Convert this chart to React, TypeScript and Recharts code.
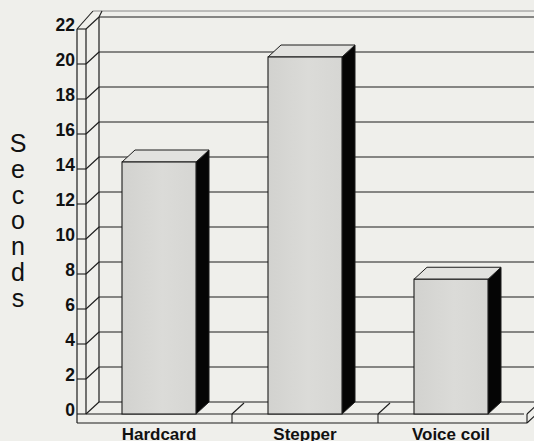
import React from 'react';
import { BarChart, Bar, XAxis, YAxis, CartesianGrid } from 'recharts';

// ---- data ----
const categories = ['Hardcard', 'Stepper', 'Voice coil'];
const seconds = [14.4, 20.4, 7.7];
const yTicks = [0, 2, 4, 6, 8, 10, 12, 14, 16, 18, 20, 22];
const yAxisTitle = 'Seconds';

const data = categories.map((name, i) => ({ name, seconds: seconds[i] }));

// ---- layout ----
const W = 534;
const H = 441;
const PLOT_LEFT = 86;
const PLOT_RIGHT = 524;
const PLOT_TOP = 29;
const PLOT_BOTTOM = 414;
const YAXIS_W = 70;
const XAXIS_H = 27;
const DX = 13; // depth offset x
const DY = 12; // depth offset y
const WALL = 9; // wall / floor thickness
const BG = '#efefeb';
const INK = '#1c1c1c';
const FONT = '"Liberation Sans", Arial, Helvetica, sans-serif';

const GridLine = (p: any) => {
  const y = p.y1;
  const x = p.x1;
  const parts: React.ReactNode[] = [];
  // back-wall gridline
  parts.push(<line key="b" x1={x + DX} y1={y - DY} x2={W} y2={y - DY} stroke={INK} strokeWidth={1.1} />);
  // wall tick + diagonal
  parts.push(<line key="t" x1={x - WALL} y1={y} x2={x} y2={y} stroke={INK} strokeWidth={1.1} />);
  parts.push(<line key="d" x1={x} y1={y} x2={x + DX} y2={y - DY} stroke={INK} strokeWidth={1.1} />);
  if (Math.abs(y - PLOT_BOTTOM) < 1) {
    const n = categories.length;
    const band = (PLOT_RIGHT - PLOT_LEFT) / n;
    // floor front top edge
    parts.push(<line key="ff" x1={x} y1={y} x2={PLOT_RIGHT} y2={y} stroke={INK} strokeWidth={1.2} />);
    // slab bottom
    parts.push(<line key="fb" x1={x - WALL} y1={y + WALL} x2={PLOT_RIGHT + 3} y2={y + WALL} stroke={INK} strokeWidth={1.2} />);
    // slab right end
    parts.push(<line key="fr" x1={PLOT_RIGHT + 3} y1={y} x2={PLOT_RIGHT + 3} y2={y + WALL} stroke={INK} strokeWidth={1.1} />);
    parts.push(<line key="fr1" x1={PLOT_RIGHT + 3} y1={y} x2={PLOT_RIGHT + 3 + DX} y2={y - DY} stroke={INK} strokeWidth={1.1} />);
    parts.push(<line key="fr2" x1={PLOT_RIGHT + 3} y1={y + WALL} x2={PLOT_RIGHT + 3 + DX} y2={y + WALL - DY} stroke={INK} strokeWidth={1.1} />);
    for (let i = 1; i < n; i++) {
      const bx = PLOT_LEFT + i * band;
      parts.push(<line key={'dv' + i} x1={bx} y1={y} x2={bx} y2={y + WALL} stroke={INK} strokeWidth={1.1} />);
      parts.push(<line key={'dd' + i} x1={bx} y1={y} x2={bx + DX - 1} y2={y - DY + 1} stroke={INK} strokeWidth={1.1} />);
    }
    // wall verticals
    parts.push(<line key="wo" x1={x - WALL} y1={PLOT_TOP} x2={x - WALL} y2={y + WALL} stroke={INK} strokeWidth={1.2} />);
    parts.push(<line key="wi" x1={x} y1={PLOT_TOP} x2={x} y2={y} stroke={INK} strokeWidth={1.2} />);
    parts.push(<line key="wb" x1={x + DX} y1={PLOT_TOP - DY} x2={x + DX} y2={y - DY} stroke={INK} strokeWidth={1.2} />);
  }
  if (Math.abs(y - PLOT_TOP) < 1) {
    // wall top cap
    parts.push(<line key="c1" x1={x - WALL} y1={y} x2={x - WALL + DX + 3} y2={y - DY - 6} stroke={INK} strokeWidth={1.1} />);
    parts.push(<line key="c2" x1={x - WALL + DX + 3} y1={y - DY - 6} x2={W} y2={y - DY - 6} stroke="#888" strokeWidth={1} />);
    parts.push(<line key="c3" x1={x + DX} y1={y - DY} x2={x + DX + 3} y2={y - DY - 6} stroke={INK} strokeWidth={1.1} />);
  }
  return <g key={'gl' + y}>{parts}</g>;
};

const Bar3D = (p: any) => {
  const { x, y, width, height } = p;
  if (height == null || width == null) return null;
  const side = `${x + width},${y} ${x + width + DX},${y - DY} ${x + width + DX},${y + height - DY} ${x + width},${y + height}`;
  const top = `${x},${y} ${x + DX},${y - DY} ${x + width + DX},${y - DY} ${x + width},${y}`;
  return (
    <g>
      <polygon points={side} fill="#050505" stroke={INK} strokeWidth={1} />
      <polygon points={top} fill="#e2e2df" stroke={INK} strokeWidth={1} strokeLinejoin="round" />
      <rect x={x} y={y} width={width} height={height} fill="url(#faceGrad)" stroke={INK} strokeWidth={1.1} />
    </g>
  );
};

const YTick = (p: any) => (
  <text x={PLOT_LEFT - 11} y={p.y + 2} textAnchor="end" fontFamily={FONT} fontWeight="bold" fontSize={17.5} fill="#111">
    {p.payload.value}
  </text>
);

const XTick = (p: any) => (
  <text x={p.x} y={H - 1} textAnchor="middle" fontFamily={FONT} fontWeight="bold" fontSize={17} fill="#111">
    {p.payload.value}
  </text>
);

const YTitle = () => (
  <text fontFamily={FONT} fontSize={25} fill="#111" textAnchor="middle">
    {yAxisTitle.split('').map((ch, i) => (
      <tspan key={i} x={18} y={152 + i * 25.8}>
        {ch}
      </tspan>
    ))}
  </text>
);

export default function App() {
  return (
    <div style={{ position: 'absolute', left: 0, top: 0, width: W, height: H, background: BG, overflow: 'hidden' }}>
      <BarChart
        width={W}
        height={H}
        data={data}
        margin={{ top: PLOT_TOP, right: W - PLOT_RIGHT, bottom: H - PLOT_BOTTOM - XAXIS_H, left: PLOT_LEFT - YAXIS_W }}
      >
        <defs>
          <linearGradient id="faceGrad" x1="0" y1="0" x2="1" y2="0">
            <stop offset="0%" stopColor="#d2d2cf" />
            <stop offset="55%" stopColor="#dbdbd8" />
            <stop offset="100%" stopColor="#d6d6d3" />
          </linearGradient>
        </defs>
        <CartesianGrid vertical={false} horizontal={GridLine} />
        <XAxis
          dataKey="name"
          height={XAXIS_H}
          axisLine={false}
          tickLine={false}
          interval={0}
          tick={XTick}
        />
        <YAxis
          width={YAXIS_W}
          domain={[0, 22]}
          ticks={yTicks}
          interval={0}
          axisLine={false}
          tickLine={false}
          tick={YTick}
          label={{ content: YTitle }}
        />
        <Bar dataKey="seconds" barSize={74} isAnimationActive={false} shape={Bar3D} />
      </BarChart>
    </div>
  );
}
